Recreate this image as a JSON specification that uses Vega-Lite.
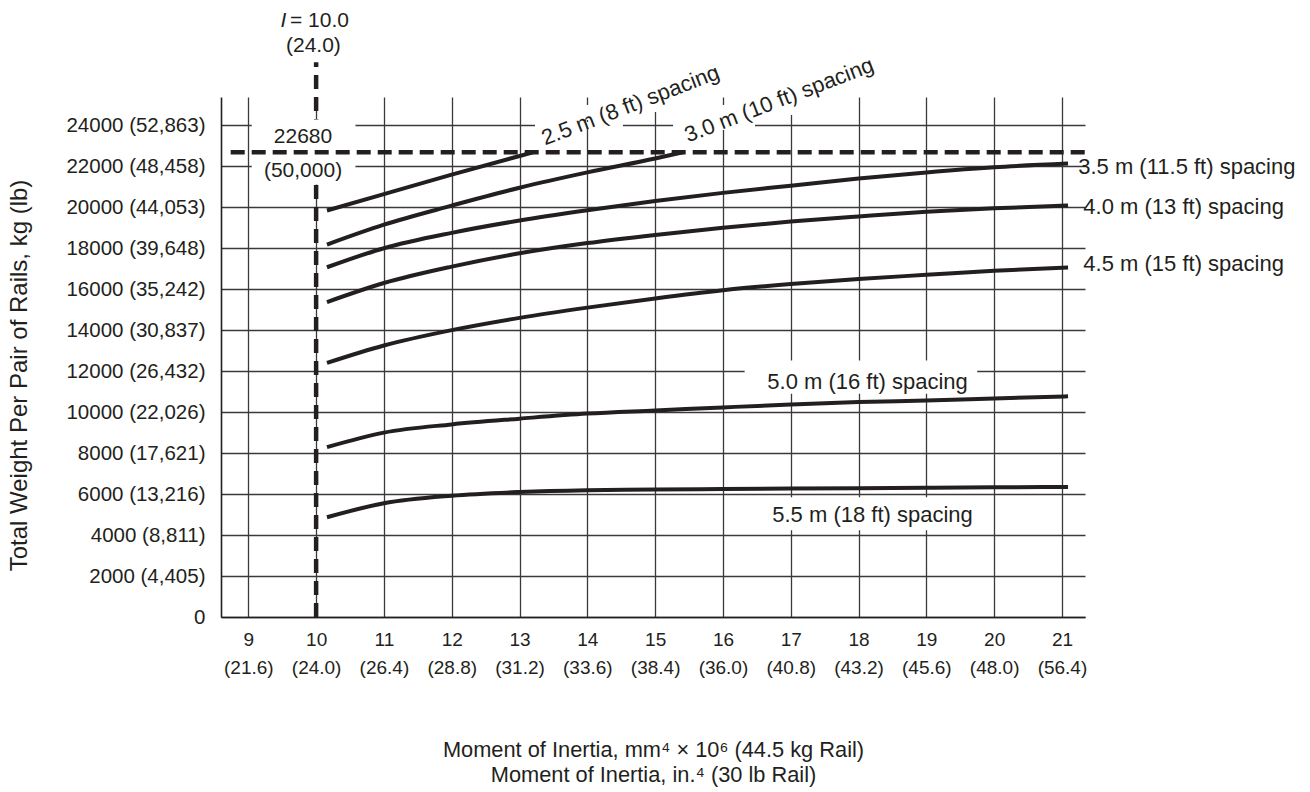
{
  "$schema": "https://vega.github.io/schema/vega-lite/v6.json",
  "width": 864,
  "height": 520,
  "autosize": {"type": "none"},
  "padding": {"left": 221, "top": 97, "right": 225, "bottom": 175},
  "background": "white",
  "config": {
    "view": {"stroke": null},
    "font": "Liberation Sans",
    "text": {"font": "Liberation Sans", "color": "#231f20"}
  },
  "datasets": {
    "curves": [
      {"s": "2.5", "x": 10.16, "y": 19840}, {"s": "2.5", "x": 11, "y": 20640}, {"s": "2.5", "x": 12, "y": 21590}, {"s": "2.5", "x": 13, "y": 22500}, {"s": "2.5", "x": 13.2, "y": 22680},
      {"s": "3.0", "x": 10.16, "y": 18180}, {"s": "3.0", "x": 11, "y": 19150}, {"s": "3.0", "x": 12, "y": 20080}, {"s": "3.0", "x": 13, "y": 20950}, {"s": "3.0", "x": 14, "y": 21700}, {"s": "3.0", "x": 15, "y": 22380}, {"s": "3.0", "x": 15.41, "y": 22680},
      {"s": "3.5", "x": 10.16, "y": 17070}, {"s": "3.5", "x": 11, "y": 18000}, {"s": "3.5", "x": 12, "y": 18750}, {"s": "3.5", "x": 13, "y": 19350}, {"s": "3.5", "x": 14, "y": 19850}, {"s": "3.5", "x": 15, "y": 20300}, {"s": "3.5", "x": 16, "y": 20700}, {"s": "3.5", "x": 17, "y": 21050}, {"s": "3.5", "x": 18, "y": 21400}, {"s": "3.5", "x": 19, "y": 21700}, {"s": "3.5", "x": 20, "y": 21950}, {"s": "3.5", "x": 21.09, "y": 22130},
      {"s": "4.0", "x": 10.16, "y": 15370}, {"s": "4.0", "x": 11, "y": 16300}, {"s": "4.0", "x": 12, "y": 17100}, {"s": "4.0", "x": 13, "y": 17750}, {"s": "4.0", "x": 14, "y": 18250}, {"s": "4.0", "x": 15, "y": 18650}, {"s": "4.0", "x": 16, "y": 19000}, {"s": "4.0", "x": 17, "y": 19300}, {"s": "4.0", "x": 18, "y": 19550}, {"s": "4.0", "x": 19, "y": 19780}, {"s": "4.0", "x": 20, "y": 19950}, {"s": "4.0", "x": 21.09, "y": 20080},
      {"s": "4.5", "x": 10.16, "y": 12400}, {"s": "4.5", "x": 11, "y": 13250}, {"s": "4.5", "x": 12, "y": 14000}, {"s": "4.5", "x": 13, "y": 14600}, {"s": "4.5", "x": 14, "y": 15100}, {"s": "4.5", "x": 15, "y": 15550}, {"s": "4.5", "x": 16, "y": 15950}, {"s": "4.5", "x": 17, "y": 16250}, {"s": "4.5", "x": 18, "y": 16500}, {"s": "4.5", "x": 19, "y": 16700}, {"s": "4.5", "x": 20, "y": 16900}, {"s": "4.5", "x": 21.09, "y": 17060},
      {"s": "5.0", "x": 10.16, "y": 8290}, {"s": "5.0", "x": 11, "y": 9000}, {"s": "5.0", "x": 12, "y": 9400}, {"s": "5.0", "x": 13, "y": 9680}, {"s": "5.0", "x": 14, "y": 9930}, {"s": "5.0", "x": 15, "y": 10080}, {"s": "5.0", "x": 16, "y": 10230}, {"s": "5.0", "x": 17, "y": 10370}, {"s": "5.0", "x": 18, "y": 10490}, {"s": "5.0", "x": 19, "y": 10570}, {"s": "5.0", "x": 20, "y": 10670}, {"s": "5.0", "x": 21.09, "y": 10770},
      {"s": "5.5", "x": 10.16, "y": 4870}, {"s": "5.5", "x": 11, "y": 5550}, {"s": "5.5", "x": 12, "y": 5920}, {"s": "5.5", "x": 13, "y": 6100}, {"s": "5.5", "x": 14, "y": 6190}, {"s": "5.5", "x": 15, "y": 6220}, {"s": "5.5", "x": 16, "y": 6250}, {"s": "5.5", "x": 17, "y": 6270}, {"s": "5.5", "x": 18, "y": 6290}, {"s": "5.5", "x": 19, "y": 6310}, {"s": "5.5", "x": 20, "y": 6330}, {"s": "5.5", "x": 21.09, "y": 6350}
    ],
    "halos": [
      {"x": 9.05, "x2": 10.58, "y": 21107, "y2": 24278},
      {"x": 16.32, "x2": 19.75, "y": 10900, "y2": 12520},
      {"x": 16.58, "x2": 19.87, "y": 4229, "y2": 5839},
      {"x": 13.228, "x2": 14.526, "y": 23868, "y2": 24161},
      {"x": 15.264, "x2": 16.473, "y": 23868, "y2": 24161},
      {"x": 13.96, "x2": 14.04, "y": 24259, "y2": 24991},
      {"x": 14.96, "x2": 15.04, "y": 24649, "y2": 25380},
      {"x": 15.96, "x2": 16.04, "y": 23770, "y2": 24991},
      {"x": 16.96, "x2": 17.04, "y": 24503, "y2": 25380}
    ],
    "vrule": [{"x": 10, "y": 0, "y2": 27070}],
    "hrule": [{"x": 8.74, "x2": 21.34, "y": 22680}],
    "rotlabels": [
      {"t": "2.5 m (8 ft) spacing", "x": 13.376, "y": 23010},
      {"t": "3.0 m (10 ft) spacing", "x": 15.485, "y": 23156}
    ],
    "rightlabels": [
      {"t": "3.5 m (11.5 ft) spacing", "x": 21.24, "y": 21951},
      {"t": "4.0 m (13 ft) spacing", "x": 21.316, "y": 20034},
      {"t": "4.5 m (15 ft) spacing", "x": 21.316, "y": 17239}
    ],
    "midlabels": [
      {"t": "5.0 m (16 ft) spacing", "x": 18.133, "y": 11463},
      {"t": "5.5 m (18 ft) spacing", "x": 18.206, "y": 4961}
    ],
    "notes": [
      {"t": "22680", "x": 9.807, "y": 23420},
      {"t": "(50,000)", "x": 9.807, "y": 21790},
      {"t": "(24.0)", "x": 9.96, "y": 27880}
    ],
    "ilabel": [{"t": "I", "x": 9.519, "y": 29080}],
    "ivalue": [{"t": "= 10.0", "x": 9.615, "y": 29080}]
  },
  "layer": [
    {
      "data": {"name": "vrule"},
      "mark": {"type": "rule", "color": "#231f20", "strokeWidth": 4.5, "strokeDash": [14, 8]},
      "encoding": {
        "x": {"field": "x", "type": "quantitative", "scale": {"domain": [8.597, 21.34], "nice": false, "zero": false},
          "axis": {
            "values": [9, 10, 11, 12, 13, 14, 15, 16, 17, 18, 19, 20, 21],
            "grid": true, "gridColor": "#3a3a3a", "gridWidth": 1.3,
            "ticks": false, "domainColor": "#231f20", "domainWidth": 1.6,
            "labelFont": "Liberation Sans", "labelFontSize": 19, "labelColor": "#231f20",
            "labelPadding": 13, "labelLineHeight": 28, "labelBaseline": "top",
            "labelExpr": "[format(datum.value, 'd'), ['(21.6)','(24.0)','(26.4)','(28.8)','(31.2)','(33.6)','(38.4)','(36.0)','(40.8)','(43.2)','(45.6)','(48.0)','(56.4)'][datum.value - 9]]",
            "title": ["Moment of Inertia, mm⁴ × 10⁶ (44.5 kg Rail)", "Moment of Inertia, in.⁴ (30 lb Rail)"],
            "titleFont": "Liberation Sans", "titleFontSize": 21.8, "titleFontWeight": "normal", "titleColor": "#231f20",
            "titleLineHeight": 25, "titleBaseline": "top", "titleY": 122
          }},
        "y": {"field": "y", "type": "quantitative", "scale": {"domain": [0, 25380], "nice": false, "zero": false},
          "axis": {
            "values": [0, 2000, 4000, 6000, 8000, 10000, 12000, 14000, 16000, 18000, 20000, 22000, 24000],
            "grid": true, "gridColor": "#3a3a3a", "gridWidth": 1.3,
            "ticks": false, "domainColor": "#231f20", "domainWidth": 1.6,
            "labelFont": "Liberation Sans", "labelFontSize": 20.5, "labelColor": "#231f20", "labelPadding": 16,
            "labelExpr": "datum.value == 0 ? '0' : format(datum.value, 'd') + ' ' + ['','(4,405)','(8,811)','(13,216)','(17,621)','(22,026)','(26,432)','(30,837)','(35,242)','(39,648)','(44,053)','(48,458)','(52,863)'][datum.value / 2000]",
            "title": "Total Weight Per Pair of Rails, kg (lb)",
            "titleFont": "Liberation Sans", "titleFontSize": 24, "titleFontWeight": "normal", "titleColor": "#231f20",
            "titleX": -202, "titleY": 278, "titleAngle": 270, "titleBaseline": "middle", "titleAlign": "center"
          }},
        "y2": {"field": "y2"}
      }
    },
    {
      "data": {"name": "halos"},
      "mark": {"type": "rect", "fill": "white"},
      "encoding": {
        "x": {"field": "x", "type": "quantitative"},
        "x2": {"field": "x2"},
        "y": {"field": "y", "type": "quantitative"},
        "y2": {"field": "y2"}
      }
    },
    {
      "data": {"name": "hrule"},
      "mark": {"type": "rule", "color": "#231f20", "strokeWidth": 4.5, "strokeDash": [14, 7]},
      "encoding": {
        "x": {"field": "x", "type": "quantitative"},
        "x2": {"field": "x2"},
        "y": {"field": "y", "type": "quantitative"}
      }
    },
    {
      "data": {"name": "curves"},
      "mark": {"type": "line", "color": "#231f20", "strokeWidth": 4, "interpolate": "monotone"},
      "encoding": {
        "x": {"field": "x", "type": "quantitative"},
        "y": {"field": "y", "type": "quantitative"},
        "detail": {"field": "s", "type": "nominal"}
      }
    },
    {
      "data": {"name": "rotlabels"},
      "mark": {"type": "text", "angle": 339, "align": "left", "baseline": "alphabetic", "fontSize": 22, "color": "#231f20"},
      "encoding": {
        "x": {"field": "x", "type": "quantitative"},
        "y": {"field": "y", "type": "quantitative"},
        "text": {"field": "t"}
      }
    },
    {
      "data": {"name": "rightlabels"},
      "mark": {"type": "text", "align": "left", "baseline": "middle", "fontSize": 22, "color": "#231f20"},
      "encoding": {
        "x": {"field": "x", "type": "quantitative"},
        "y": {"field": "y", "type": "quantitative"},
        "text": {"field": "t"}
      }
    },
    {
      "data": {"name": "midlabels"},
      "mark": {"type": "text", "align": "center", "baseline": "middle", "fontSize": 22, "color": "#231f20"},
      "encoding": {
        "x": {"field": "x", "type": "quantitative"},
        "y": {"field": "y", "type": "quantitative"},
        "text": {"field": "t"}
      }
    },
    {
      "data": {"name": "notes"},
      "mark": {"type": "text", "align": "center", "baseline": "middle", "fontSize": 21, "color": "#231f20"},
      "encoding": {
        "x": {"field": "x", "type": "quantitative"},
        "y": {"field": "y", "type": "quantitative"},
        "text": {"field": "t"}
      }
    },
    {
      "data": {"name": "ilabel"},
      "mark": {"type": "text", "align": "center", "baseline": "middle", "fontSize": 21, "fontStyle": "italic", "color": "#231f20"},
      "encoding": {
        "x": {"field": "x", "type": "quantitative"},
        "y": {"field": "y", "type": "quantitative"},
        "text": {"field": "t"}
      }
    },
    {
      "data": {"name": "ivalue"},
      "mark": {"type": "text", "align": "left", "baseline": "middle", "fontSize": 21, "color": "#231f20"},
      "encoding": {
        "x": {"field": "x", "type": "quantitative"},
        "y": {"field": "y", "type": "quantitative"},
        "text": {"field": "t"}
      }
    }
  ]
}
